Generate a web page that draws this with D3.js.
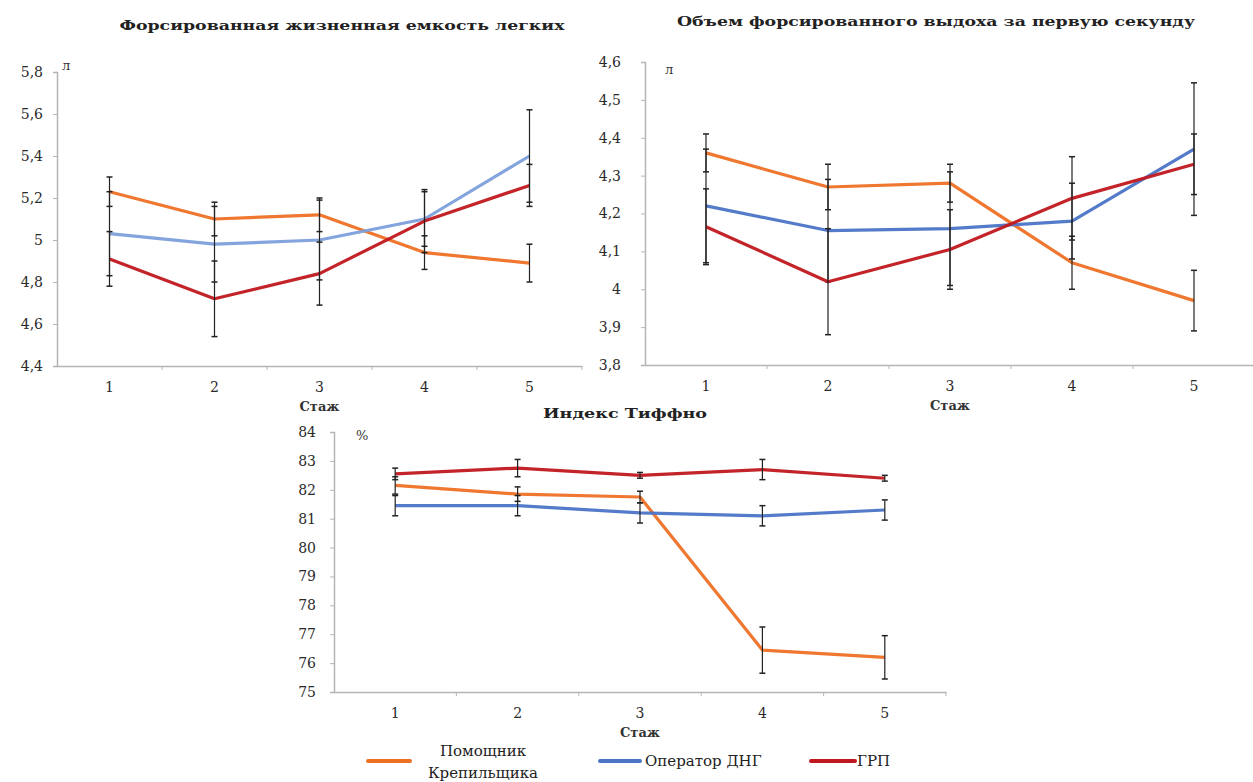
<!DOCTYPE html>
<html>
<head>
<meta charset="utf-8">
<script src="https://cdn.jsdelivr.net/npm/d3@7"></script>
<style>
  body { margin: 0; background: #fff; }
</style>
</head>
<body>
<div class="canvas"></div>
<script>
// stages (x categories)
const stages = ['1', '2', '3', '4', '5'];
const seriesNames = ['Помощник Крепильщика', 'Оператор ДНГ', 'ГРП'];

// forced vital capacity, l
const fvcHelper = [5.23, 5.10, 5.12, 4.94, 4.89];
const fvcHelperErr = [0.07, 0.08, 0.08, 0.08, 0.09];
const fvcOperator = [5.03, 4.98, 5.00, 5.10, 5.40];
const fvcOperatorErr = [0.20, 0.18, 0.19, 0.13, 0.22];
const fvcGrp = [4.91, 4.72, 4.84, 5.09, 5.26];
const fvcGrpErr = [0.13, 0.18, 0.15, 0.15, 0.10];
const fvcTicks = [4.4, 4.6, 4.8, 5.0, 5.2, 5.4, 5.6, 5.8];

// forced expiratory volume in 1 s, l
const fevHelper = [4.36, 4.27, 4.28, 4.07, 3.97];
const fevHelperErr = [0.05, 0.06, 0.05, 0.07, 0.08];
const fevOperator = [4.22, 4.155, 4.16, 4.18, 4.37];
const fevOperatorErr = [0.15, 0.135, 0.15, 0.10, 0.175];
const fevGrp = [4.165, 4.02, 4.105, 4.24, 4.33];
const fevGrpErr = [0.10, 0.14, 0.105, 0.11, 0.08];
const fevTicks = [3.8, 3.9, 4.0, 4.1, 4.2, 4.3, 4.4, 4.5, 4.6];

// Tiffeneau index, %
const tifHelper = [82.15, 81.85, 81.75, 76.45, 76.2];
const tifHelperErr = [0.3, 0.25, 0.2, 0.8, 0.75];
const tifOperator = [81.45, 81.45, 81.2, 81.1, 81.3];
const tifOperatorErr = [0.35, 0.35, 0.35, 0.35, 0.35];
const tifGrp = [82.55, 82.75, 82.5, 82.7, 82.4];
const tifGrpErr = [0.2, 0.3, 0.1, 0.35, 0.1];
const tifTicks = [75, 76, 77, 78, 79, 80, 81, 82, 83, 84];

const colors = ['#ee7024', '#4a74c6', '#c0181e'];
const serif = "'DejaVu Serif', 'Liberation Serif', 'Times New Roman', serif";

const locale = d3.formatLocale({ decimal: ',', thousands: ' ', grouping: [3], currency: ['', ''] });
const fmt = locale.format('~g');

const svg = d3.select('.canvas')
  .append('svg')
  .attr('width', 1253)
  .attr('height', 782)
  .attr('font-family', serif);

const drawPanel = cfg => {
  const x = d3.scaleBand().domain(stages).range([cfg.left, cfg.right]);
  const y = d3.scaleLinear().domain(cfg.domain).range([cfg.bottom, cfg.top]);
  const g = svg.append('g');

  // y axis
  const yAxis = g.append('g')
    .attr('transform', `translate(${cfg.left},0)`)
    .call(d3.axisLeft(y).tickValues(cfg.ticks).tickFormat(fmt).tickSize(4).tickPadding(cfg.yPad));
  // x axis with ticks between categories
  const xAxis = g.append('g')
    .attr('transform', `translate(0,${cfg.bottom})`)
    .call(d3.axisBottom(x).tickSize(0).tickPadding(cfg.xPad));
  xAxis.selectAll('.tick').append('line')
    .attr('x1', x.bandwidth() / 2).attr('x2', x.bandwidth() / 2)
    .attr('y1', 0).attr('y2', 4)
    .attr('stroke', '#b5b5b5');
  [yAxis, xAxis].forEach(a => {
    a.attr('font-family', serif);
    a.select('.domain').attr('stroke', '#b5b5b5').attr('stroke-width', 1.5);
    a.selectAll('.tick line').attr('stroke', '#b5b5b5');
    a.selectAll('text')
      .style('font-family', serif).style('font-size', '14px')
      .attr('fill', '#2a2a2a');
  });

  const cx = d => x(d) + x.bandwidth() / 2;
  const line = d3.line().x(d => cx(d.stage)).y(d => y(d.v));

  cfg.series.forEach((s, si) => {
    const pts = stages.map((st, i) => ({ stage: st, v: s.values[i], e: s.err[i] }));
    g.append('path')
      .attr('d', line(pts))
      .attr('fill', 'none')
      .attr('stroke', cfg.colors[si])
      .attr('stroke-width', 3.2)
      .attr('stroke-linejoin', 'round')
      .attr('opacity', 0.95);
    // error bars
    const eb = g.append('g').selectAll('g').data(pts).enter().append('g');
    eb.append('line')
      .attr('x1', d => cx(d.stage)).attr('x2', d => cx(d.stage))
      .attr('y1', d => y(d.v - d.e)).attr('y2', d => y(d.v + d.e))
      .attr('stroke', '#222').attr('stroke-width', 1.2);
    [-1, 1].forEach(sign => {
      eb.append('line')
        .attr('x1', d => cx(d.stage) - 3).attr('x2', d => cx(d.stage) + 3)
        .attr('y1', d => y(d.v + sign * d.e)).attr('y2', d => y(d.v + sign * d.e))
        .attr('stroke', '#222').attr('stroke-width', 1.5);
    });
  });

  // title
  g.append('text')
    .attr('x', cfg.titleX).attr('y', cfg.titleY)
    .attr('text-anchor', 'middle')
    .style('font-family', serif).style('font-size', '13px').style('font-weight', 'bold')
    .attr('fill', '#222')
    .attr('textLength', cfg.titleLen).attr('lengthAdjust', 'spacingAndGlyphs')
    .text(cfg.title);
  // unit
  g.append('text')
    .attr('x', cfg.left + cfg.unitDx).attr('y', cfg.top + cfg.unitDy)
    .style('font-family', serif).style('font-size', '13px')
    .attr('fill', '#333')
    .text(cfg.unit);
  // x label
  g.append('text')
    .attr('x', (cfg.left + cfg.right) / 2).attr('y', cfg.bottom + 45)
    .attr('text-anchor', 'middle')
    .style('font-family', serif).style('font-size', '13px').style('font-weight', 'bold')
    .attr('fill', '#333')
    .text('Стаж');
};

drawPanel({
  left: 57, right: 582, top: 72, bottom: 366, domain: [4.4, 5.8], ticks: fvcTicks,
  yPad: 10, xPad: 16, colors: ['#ee7024', '#7d9fdc', '#c0181e'],
  series: [
    { values: fvcHelper, err: fvcHelperErr },
    { values: fvcOperator, err: fvcOperatorErr },
    { values: fvcGrp, err: fvcGrpErr }
  ],
  title: 'Форсированная жизненная емкость легких', titleX: 342, titleY: 30, titleLen: 445,
  unit: 'л', unitDx: 5, unitDy: -2
});

drawPanel({
  left: 645, right: 1255, top: 62, bottom: 365, domain: [3.8, 4.6], ticks: fevTicks,
  yPad: 20, xPad: 16, colors: colors,
  series: [
    { values: fevHelper, err: fevHelperErr },
    { values: fevOperator, err: fevOperatorErr },
    { values: fevGrp, err: fevGrpErr }
  ],
  title: 'Объем форсированного выдоха за первую секунду', titleX: 936, titleY: 26, titleLen: 518,
  unit: 'л', unitDx: 20, unitDy: 12
});

drawPanel({
  left: 334, right: 946, top: 432, bottom: 692, domain: [75, 84], ticks: tifTicks,
  yPad: 14, xPad: 16, colors: colors,
  series: [
    { values: tifHelper, err: tifHelperErr },
    { values: tifOperator, err: tifOperatorErr },
    { values: tifGrp, err: tifGrpErr }
  ],
  title: 'Индекс Тиффно', titleX: 625, titleY: 418, titleLen: 164,
  unit: '%', unitDx: 22, unitDy: 8
});

// legend
const legend = svg.append('g');
const legendItems = [
  { x1: 368, x2: 410, tx: 483, lines: ['Помощник', 'Крепильщика'], anchor: 'middle' },
  { x1: 600, x2: 640, tx: 645, lines: ['Оператор ДНГ'], anchor: 'start' },
  { x1: 811, x2: 855, tx: 857, lines: ['ГРП'], anchor: 'start' }
];
legendItems.forEach((it, i) => {
  legend.append('line')
    .attr('x1', it.x1).attr('x2', it.x2).attr('y1', 761).attr('y2', 761)
    .attr('stroke', colors[i]).attr('stroke-width', 4).attr('stroke-linecap', 'round');
  const t = legend.append('text')
    .attr('x', it.tx).attr('text-anchor', it.anchor)
    .style('font-family', serif).style('font-size', '15px')
    .attr('fill', '#222');
  if (it.lines.length === 1) {
    t.attr('y', 766).text(it.lines[0]);
  } else {
    it.lines.forEach((l, k) => {
      t.append('tspan').attr('x', it.tx).attr('y', 756 + k * 22).text(l);
    });
  }
});
</script>
</body>
</html>
